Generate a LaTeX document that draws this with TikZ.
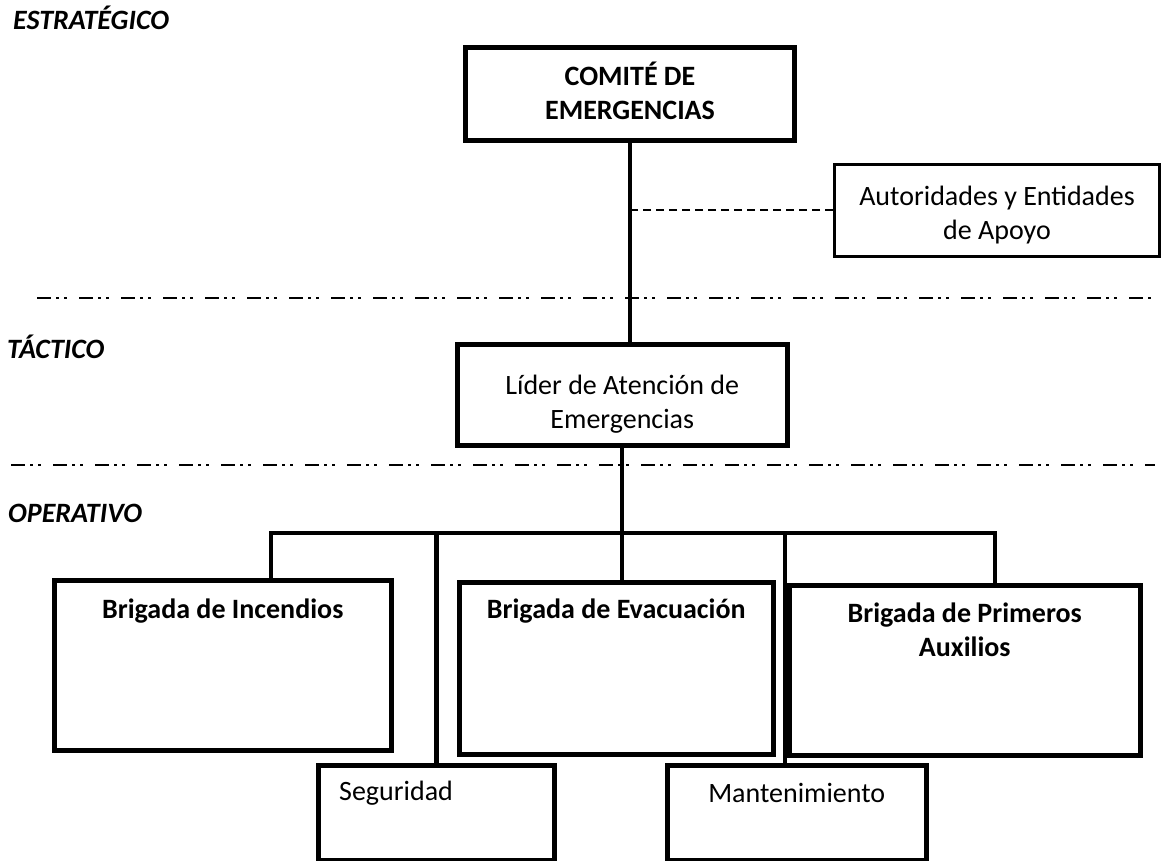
\documentclass[tikz,border=0pt]{standalone}
\usepackage{fontspec}
\setmainfont{Carlito}
\usetikzlibrary{positioning}

\begin{document}
\begin{tikzpicture}[x=1pt,y=-1pt]
\tikzset{box/.style={draw,line width=4.5pt,anchor=north west,inner sep=0pt},
  txt/.style={font=\fontsize{28}{34}\selectfont,align=center,inner sep=0pt,text height=20pt,anchor=north},
  btxt/.style={txt,font=\fontsize{28}{34}\selectfont\bfseries},
  level/.style={font=\fontsize{28}{30}\selectfont\bfseries\itshape,anchor=base west,inner sep=0pt},
  conn/.style={line width=4.5pt},
  nivel/.style={line width=2pt,dash pattern=on 14pt off 5pt on 3pt off 5pt on 3pt off 12pt},
  apoyo/.style={line width=2pt,dash pattern=on 8pt off 5pt}}
\useasboundingbox (0,0) rectangle (1162,861);
\node[level] (est) at (13,30) {ESTRATÉGICO};
\node[level] (tac) at (7,358) {TÁCTICO};
\node[level] (ope) at (8,522) {OPERATIVO};
\node[box,line width=5pt,minimum width=329pt,minimum height=93pt,
  label={[btxt,yshift=-54pt]north:{COMITÉ DE\\EMERGENCIAS}}] (comite) at (463,45) {};
\node[box,line width=3pt,minimum width=325pt,minimum height=92pt,
  label={[txt,yshift=-56pt]north:{Autoridades y Entidades\\de Apoyo}}] (autoridades) at (833,163) {};
\node[box,minimum width=330pt,minimum height=101pt,
  label={[txt,yshift=-66pt]north:{Líder de Atención de\\Emergencias}}] (lider) at (455,342) {};
\node[box,minimum width=337pt,minimum height=170pt,
  label={[btxt,yshift=-20pt]north:{Brigada de Incendios}}] (incendios) at (52,578) {};
\node[box,minimum width=314pt,minimum height=172pt,
  label={[btxt,yshift=-18pt]north:{Brigada de Evacuación}}] (evacuacion) at (457,580) {};
\node[box,minimum width=351pt,minimum height=170pt,
  label={[btxt,yshift=-53pt]north:{Brigada de Primeros\\Auxilios}}] (primeros) at (787,583) {};
\node[box,minimum width=236pt,minimum height=95pt,
  label={[txt,anchor=north west,xshift=23pt,yshift=-17pt]north west:{Seguridad}}] (seguridad) at (316,763) {};
\node[box,minimum width=259pt,minimum height=95pt,
  label={[txt,yshift=-19pt]north:{Mantenimiento}}] (mantenimiento) at (665,763) {};
\coordinate (c) at (622,533);
\coordinate (busL) at (271,533);
\coordinate (busR) at (995,533);
\coordinate (mant) at (785,533);
\draw[nivel] (37,298) -- (1155,298);
\draw[nivel] (11,465) -- (1155,465);
\draw[conn] (comite.south) -- (comite.south |- lider.north);
\draw[apoyo] (autoridades.west) -- (autoridades.west -| comite.south);
\draw[conn] (c |- lider.south) -- (c |- evacuacion.north);
\draw[conn] (busL |- incendios.north) -- (busL) -- (busR) -- (busR |- primeros.north);
\draw[conn] (seguridad.north) -- (seguridad.north |- busL);
\draw[conn] (mant) -- (mant |- mantenimiento.north);
\end{tikzpicture}
\end{document}
